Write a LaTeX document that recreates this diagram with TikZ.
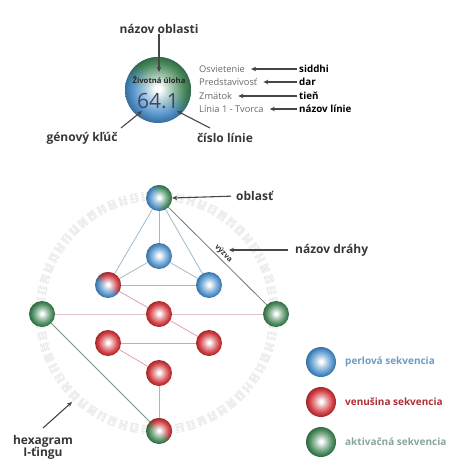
\documentclass[tikz,border=0pt]{standalone}
\usepackage{fontspec}
\setmainfont{Open Sans}
\usetikzlibrary{arrows.meta,fadings}
\definecolor{bluec}{RGB}{70,140,200}
\definecolor{redc}{RGB}{205,45,50}
\definecolor{greenc}{RGB}{60,130,80}
\definecolor{labc}{RGB}{55,55,55}
\definecolor{lstc}{RGB}{105,105,105}
\definecolor{arrc}{RGB}{70,70,70}
\definecolor{blin}{RGB}{160,185,205}
\definecolor{rlin}{RGB}{225,160,165}
\definecolor{glin}{RGB}{120,150,135}
\definecolor{dlin}{RGB}{110,120,115}
\definecolor{hlin}{RGB}{220,195,200}
\definecolor{hexc}{RGB}{232,232,232}
\definecolor{legb}{RGB}{110,155,195}
\definecolor{legr}{RGB}{175,45,55}
\definecolor{legg}{RGB}{135,165,150}
\definecolor{numc}{RGB}{60,75,95}
\colorlet{sphc}{bluec}
\pgfdeclareradialshading[sphc]{sphere}{\pgfpoint{0bp}{1bp}}{color(0bp)=(white); color(2bp)=(white); color(10bp)=(sphc!45!white); color(19bp)=(sphc!90!white); color(25bp)=(sphc!80!black); color(50bp)=(sphc!80!black)}
\begin{tikzfadingfrompicture}[name=halfsoft]
  \fill[transparent!100] (-1cm,-1cm) rectangle (1cm,1cm);
  \shade[top color=transparent!0, bottom color=transparent!100] (-1cm,-0.3cm) rectangle (1cm,0.3cm);
  \fill[transparent!0] (-1cm,0.3cm) rectangle (1cm,1cm);
\end{tikzfadingfrompicture}
\tikzset{
  sph/.style={shading=sphere, /utils/exec={\colorlet{sphc}{#1}}},
  spot/.style={circle, inner sep=0, minimum size=26pt},
  lab/.style={font=\fontsize{12}{13}\selectfont\bfseries, text=labc, inner sep=0},
  lst/.style={font=\fontsize{9.3}{11}\selectfont, text=lstc, inner sep=0, anchor=west},
  lstb/.style={font=\fontsize{9.8}{11}\selectfont\bfseries, text=black, inner sep=0, anchor=west},
  leg/.style={font=\fontsize{10}{12}\selectfont\bfseries, inner sep=0, anchor=west},
  arr/.style={draw=arrc, line width=1.1pt, -{Stealth[length=5pt,width=4.5pt]}},
  hexl/.style={draw=hexc, line width=1pt},
  bl/.style={draw=blin, line width=0.8pt},
  rl/.style={draw=rlin, line width=0.8pt},
}
\newcommand\duosph[5]{%
  \shade[sph=#3] (#1) circle[radius=#2];
  \shade[sph=#4, path fading=halfsoft, fading angle=#5] (#1) circle[radius=#2];
}
\begin{document}
\begin{tikzpicture}[x=1pt,y=-1pt]
\useasboundingbox (0,0) rectangle (474,474);
% ---------- top key ----------
\node[circle, inner sep=0, minimum size=66pt] (big) at (158,90) {};
\duosph{big.center}{33pt}{bluec}{greenc}{-35}
\node[font=\fontsize{7.7}{9}\selectfont\bfseries, text=black!85, inner sep=0] (uloha) at (159,80) {Životná úloha};
\node[font=\fontsize{21}{24}\selectfont, text=numc, inner sep=0] (num) at (158,101) {64.1};
\node[lab] (nazob) at (159,29) {názov oblasti};
\coordinate (nazTip) at (159,72);
\draw[arr] (nazob.south) -- (nazTip);
\node[lab] (gen) at (82,138) {génový kľúč};
\coordinate (genTip) at (142,111);
\coordinate (genS) at (121,128);
\draw[arr] (genS) -- (genTip);
\node[lab] (cis) at (225,138) {číslo línie};
\coordinate (cisTip) at (177,111);
\coordinate (cisS) at (210,128);
\draw[arr] (cisS) -- (cisTip);
\node[lst] (osv) at (199,69) {Osvietenie};
\node[lst] (pre) at (199,82) {Predstavivosť};
\node[lst] (zma) at (199,96) {Zmätok};
\node[lst] (lin) at (199,109) {Línia 1 - Tvorca};
\node[lstb] (sid) at (299,69) {siddhi};
\node[lstb] (dar) at (299,82) {dar};
\node[lstb] (tie) at (299,96) {tieň};
\node[lstb] (nli) at (299,109) {názov línie};
\foreach \a/\b in {sid/osv,dar/pre,tie/zma,nli/lin}
  \draw[arr, shorten <=2pt, shorten >=6pt] (\a.west) -- (\b.east);
% ---------- hexagram ring ----------
\foreach \i in {0,...,63}{
  \begin{scope}[shift={(157,313)}, rotate=\i*5.625]
    \foreach \k in {0,...,5}{
      \pgfmathsetmacro\rr{113+\k*1.6}
      \pgfmathtruncatemacro\bit{mod(floor((\i*37+11)/(2^\k)),2)}
      \ifnum\bit=1
        \draw[hexl] (\rr,-4) -- (\rr,4);
      \else
        \draw[hexl] (\rr,-4) -- (\rr,-1) (\rr,1) -- (\rr,4);
      \fi
    }
  \end{scope}
}
% ---------- bodygraph ----------
\node[spot] (T) at (159,198) {};
\node[spot] (M) at (159,256) {};
\node[spot] (BL) at (108,285) {};
\node[spot] (BR) at (209,285) {};
\node[spot] (GL) at (42,314) {};
\node[spot] (RC) at (159,314) {};
\node[spot] (GR) at (276,314) {};
\node[spot] (RL) at (108,343) {};
\node[spot] (RR) at (209,343) {};
\node[spot] (RD) at (159,373) {};
\node[spot] (B) at (159,431) {};
\draw[draw=hlin, line width=0.9pt] (GL) -- (GR);
\draw[bl] (T) -- (M);
\draw[bl] (T) -- (BL);
\draw[bl] (T) -- (BR);
\draw[bl] (M) -- (BL);
\draw[bl] (M) -- (BR);
\draw[bl] (BL) -- (BR);
\draw[draw=dlin, line width=0.8pt] (T) -- node[pos=0.52, sloped, above=1.5pt, font=\fontsize{7.5}{8}\selectfont\bfseries, text=black!80, inner sep=0] (vyz) {výzva} (GR);
\draw[rl] (BL) -- (RC);
\draw[rl] (RC) -- (RR);
\draw[rl] (RL) -- (RR);
\draw[rl] (RL) -- (RD);
\draw[rl] (RD) -- (B);
\draw[draw=glin, line width=0.8pt] (GL) -- (B);
\duosph{T.center}{13pt}{bluec}{greenc}{-75}
\shade[sph=bluec] (M.center) circle[radius=13pt];
\duosph{BL.center}{13pt}{bluec}{redc}{-40}
\shade[sph=bluec] (BR.center) circle[radius=13pt];
\shade[sph=greenc] (GL.center) circle[radius=13pt];
\shade[sph=redc] (RC.center) circle[radius=13pt];
\shade[sph=greenc] (GR.center) circle[radius=13pt];
\shade[sph=redc] (RL.center) circle[radius=13pt];
\shade[sph=redc] (RR.center) circle[radius=13pt];
\shade[sph=redc] (RD.center) circle[radius=13pt];
\duosph{B.center}{13pt}{greenc}{redc}{-40}
% labels
\node[lab, anchor=west] (obl) at (236,196) {oblasť};
\draw[arr, shorten <=5pt] (obl.west) -- (T.east);
\node[lab, anchor=west] (dra) at (295,250) {názov dráhy};
\coordinate (draTip) at (229,250);
\draw[arr, shorten <=7pt] (dra.west) -- (draTip);
\node[lab, align=center] (hex) at (43,447) {hexagram\\[-1pt]I-ťingu};
\coordinate (hexTip) at (72,402);
\coordinate (hexS) at (43,428);
\draw[arr] (hexS) -- (hexTip);
% legend
\node[circle, inner sep=0, minimum size=30pt] (lb) at (321,362) {};
\node[circle, inner sep=0, minimum size=30pt] (lr) at (321,402) {};
\node[circle, inner sep=0, minimum size=30pt] (lg) at (321,442) {};
\shade[sph=bluec] (lb.center) circle[radius=15pt];
\shade[sph=redc] (lr.center) circle[radius=15pt];
\shade[sph=greenc] (lg.center) circle[radius=15pt];
\node[leg, text=legb] (tb) at (345,362) {perlová sekvencia};
\node[leg, text=legr] (tr) at (345,402) {venušina sekvencia};
\node[leg, text=legg] (tg) at (345,442) {aktivačná sekvencia};
\end{tikzpicture}
\end{document}
